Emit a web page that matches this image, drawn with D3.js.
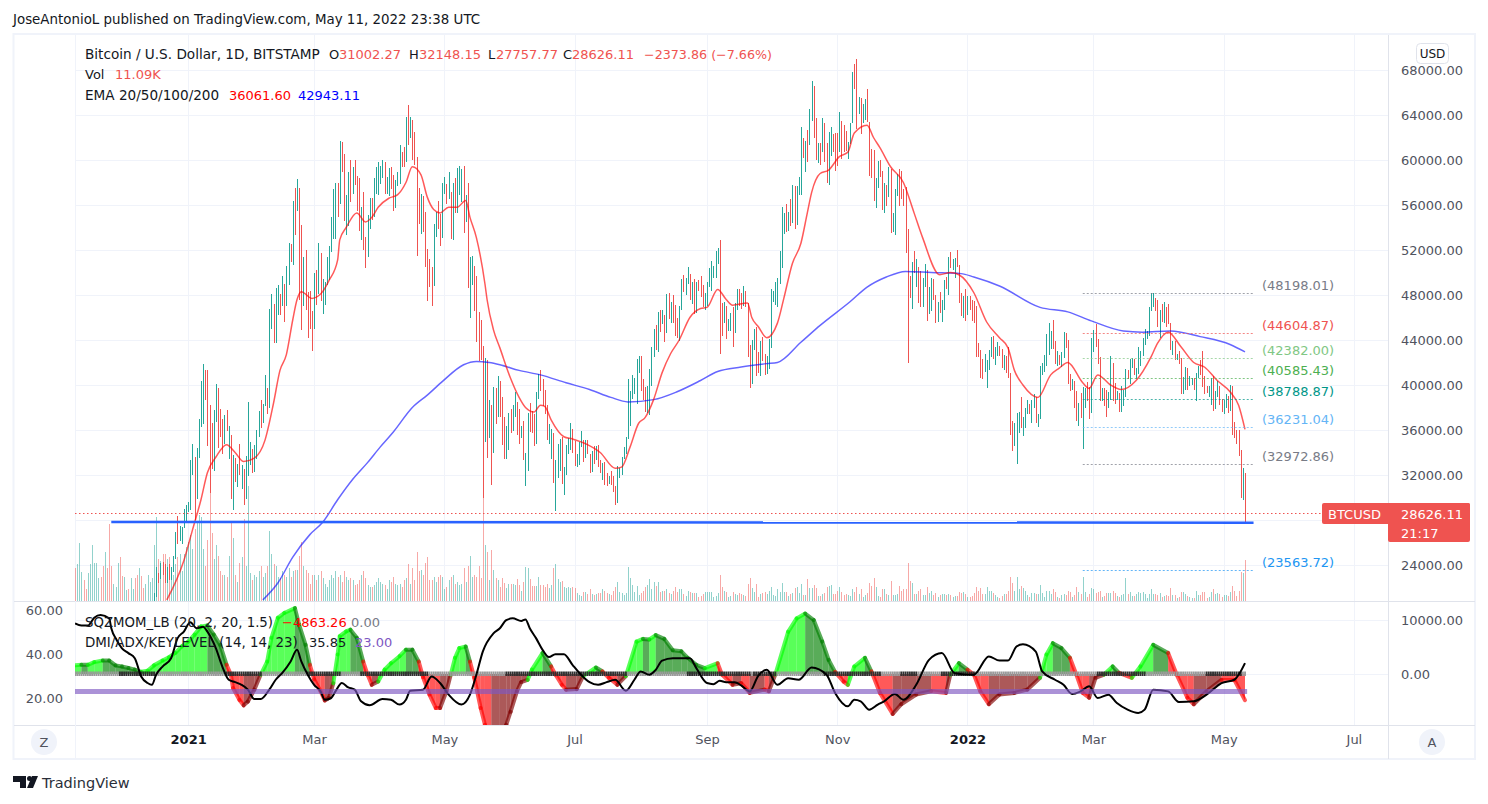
<!DOCTYPE html>
<html lang="en">
<head>
<meta charset="utf-8">
<title>BTCUSD</title>
<script src="https://d3js.org/d3.v7.min.js"></script>
<style>
  html, body { margin: 0; padding: 0; background: #fff; }
  svg { display: block; }
  text { font-family: "DejaVu Sans", sans-serif; font-size: 13px; fill: #131722; }
  .domain { display: none; }
  rect.bar, rect.vol { shape-rendering: crispEdges; }
</style>
</head>
<body>
<svg id="chart" width="1488" height="804"></svg>
<script>
// daily bars in thousands of USD, from 16 Dec 2020 (lower ones are under the volume pane edge)
var highs = [
  21.5,23.8,23.3,24.2,24.3,24.1,23.8,24.1,23.8,24.8,26.9,28.4,27.5,27.4,29.0,29.3,
  29.6,33.3,34.8,33.6,34.4,37.0,40.4,41.9,41.3,41.3,38.2,36.6,37.8,40.1,39.7,37.9,37.0,37.3,37.8,36.4,35.6,33.8,33.5,33.0,34.8,32.9,32.5,33.7,38.5,34.9,34.3,
  34.7,36.0,37.7,38.7,38.3,40.9,39.7,46.8,48.1,47.2,48.6,48.9,48.1,49.7,49.0,50.6,52.6,52.5,56.4,57.5,58.3,57.5,54.2,51.4,52.0,48.3,48.4,46.6,
  50.0,50.2,52.6,51.7,49.4,49.2,51.4,52.4,54.9,57.4,58.0,58.0,61.7,61.6,60.5,56.9,58.9,60.0,59.4,60.0,58.6,58.4,55.8,57.2,53.2,55.1,56.6,56.6,58.4,59.4,59.8,
  59.5,60.0,59.8,58.5,59.3,59.4,58.7,58.2,58.9,61.3,60.7,61.2,63.8,64.9,63.8,63.6,62.5,60.3,57.5,57.0,56.8,55.4,52.1,51.2,50.5,54.3,55.4,56.4,55.2,58.0,
  58.5,57.9,58.9,57.2,58.0,58.4,59.3,59.5,59.2,59.5,56.9,58.0,51.4,51.5,50.6,49.7,46.5,45.8,43.5,42.4,42.2,38.7,38.2,39.8,39.7,40.8,40.4,38.9,37.2,36.4,37.5,
  37.9,38.2,39.4,38.5,37.9,36.4,36.8,34.0,37.5,38.4,37.7,37.4,39.4,41.0,41.3,40.5,39.6,38.2,36.5,36.1,35.7,33.3,34.8,35.2,35.4,32.7,34.7,35.3,36.6,36.1,
  35.0,33.9,34.9,35.9,35.1,35.1,35.1,33.9,34.1,34.6,34.6,34.7,33.3,33.1,33.2,32.2,31.9,32.4,31.9,31.0,32.8,32.6,33.6,34.5,35.4,40.5,39.5,40.9,40.6,42.3,42.6,
  42.6,40.5,39.8,39.9,41.4,43.4,45.0,45.3,46.5,46.7,46.7,46.2,48.1,48.2,47.4,48.0,47.1,46.0,47.0,49.4,49.8,49.5,50.5,49.9,49.2,49.4,49.2,49.3,49.7,48.9,48.2,
  49.2,50.4,51.0,50.6,51.9,52.2,52.9,47.3,47.4,47.0,45.9,46.4,46.9,47.3,48.5,48.5,48.2,48.8,48.4,47.3,43.6,44.0,45.0,45.2,42.9,43.9,44.3,42.8,42.6,44.1,
  48.5,48.4,49.2,49.5,51.9,55.8,55.3,56.1,55.4,56.5,57.8,57.7,57.7,58.5,62.9,62.0,61.7,62.7,64.5,67.0,66.6,63.7,61.5,61.5,63.7,63.3,61.5,62.5,62.9,62.3,62.4,
  62.4,64.3,63.5,63.1,62.6,61.6,63.3,67.8,68.5,69.0,65.6,65.5,65.0,65.4,66.3,63.4,61.0,60.9,58.4,59.9,60.0,59.0,58.0,57.8,59.4,59.2,55.3,57.4,58.8,59.2,
  59.0,57.4,57.6,53.9,49.7,50.9,51.9,51.2,50.5,50.1,49.5,50.8,50.2,48.7,49.5,49.4,48.0,47.4,48.3,47.6,49.3,49.6,51.4,51.8,51.2,51.3,52.0,50.7,48.2,47.9,48.5,
  47.9,47.9,47.6,47.5,47.0,43.7,43.1,42.3,42.8,42.2,43.1,44.3,44.4,43.4,43.8,43.5,43.2,42.7,42.6,43.4,41.1,36.8,36.6,37.5,37.6,38.9,37.2,38.0,38.7,38.3,38.7,
  39.2,38.9,37.4,41.7,42.0,42.7,44.5,45.5,44.8,45.8,43.9,43.0,42.7,42.9,44.7,44.6,44.0,41.0,40.5,40.4,39.5,38.4,39.3,39.8,39.7,40.3,39.8,44.2,
  44.9,45.4,44.1,42.5,39.7,39.7,39.6,39.4,42.6,42.0,40.2,39.5,39.3,39.9,39.6,41.4,41.3,42.3,42.4,42.3,41.5,43.4,43.0,44.2,45.0,44.8,46.9,48.2,48.2,47.7,47.6,
  46.7,47.2,47.4,46.9,47.2,45.5,43.9,43.9,42.8,43.0,42.4,40.7,41.6,41.5,40.8,40.6,40.6,41.1,41.7,42.2,43.0,40.8,39.9,39.9,40.6,40.8,39.5,40.4,39.9,38.8,
  38.7,39.2,39.0,40.0,39.9,36.7,36.0,36.0,34.2,32.6,32.15
];
var lows = [
  19.3,21.2,22.4,22.8,23.1,22.4,22.4,22.7,22.7,23.4,24.5,25.9,26.1,25.9,27.3,27.9,
  28.7,28.9,32.0,28.0,29.9,33.5,36.3,36.5,38.7,34.6,30.4,32.5,32.4,36.7,34.4,35.4,33.9,34.8,35.9,33.4,29.9,28.9,31.4,30.9,32.0,30.8,29.3,29.9,31.9,32.9,32.2,
  32.3,33.4,35.4,36.2,36.6,38.1,37.4,38.0,45.0,43.7,43.7,46.2,46.2,47.0,45.6,47.0,48.9,50.9,50.7,53.3,55.5,47.6,44.9,47.0,46.7,44.2,45.0,43.0,
  45.0,47.1,48.1,47.5,46.3,47.1,48.9,49.3,51.8,53.0,53.0,54.9,56.1,58.9,54.6,53.3,54.1,56.3,57.0,57.8,55.5,53.7,52.9,52.0,50.4,51.4,53.9,54.7,54.9,57.0,56.9,
  57.9,58.4,57.0,57.0,56.8,57.4,55.5,55.7,57.7,57.9,59.4,59.4,59.8,61.3,62.0,60.0,59.6,51.5,54.3,53.4,53.6,50.5,47.5,48.7,47.0,48.8,53.2,53.9,52.4,53.1,
  57.0,56.1,56.5,53.0,52.9,55.3,55.3,56.9,56.3,53.5,54.5,48.6,46.0,48.9,46.6,43.8,42.1,42.2,30.0,34.9,33.5,35.3,31.1,34.0,36.5,37.2,37.2,34.7,33.4,33.4,34.2,
  35.7,35.9,37.2,35.6,34.8,35.3,33.3,31.0,32.4,35.8,35.7,34.6,34.8,38.8,39.5,38.1,37.4,35.1,34.8,33.4,31.3,28.8,31.7,32.4,31.2,30.2,32.0,33.9,34.2,34.0,
  32.8,32.7,32.9,34.5,33.2,33.5,33.9,32.2,32.3,33.0,33.3,32.7,32.2,31.6,31.1,31.0,31.2,31.1,30.5,29.3,29.5,31.7,32.0,33.4,33.9,35.2,36.4,38.8,39.2,38.3,41.1,
  39.5,38.7,37.6,37.5,37.3,39.9,42.5,43.1,42.9,44.7,45.4,43.8,44.6,45.9,45.5,45.5,44.4,44.2,43.9,46.7,48.3,48.0,49.0,47.6,47.2,46.3,46.4,48.4,47.8,46.9,46.7,
  47.0,48.7,48.4,49.5,49.5,50.8,42.8,44.4,45.5,44.1,44.8,44.8,43.4,44.6,46.7,47.0,46.8,47.0,46.9,42.5,39.7,40.1,43.1,40.8,41.1,40.8,42.1,40.9,41.0,41.4,
  43.3,47.4,47.1,46.9,49.0,50.4,53.4,53.6,53.7,54.1,54.4,53.9,54.2,56.9,56.9,60.2,58.9,59.8,61.3,63.5,62.0,60.0,59.7,59.6,60.7,59.8,58.0,57.8,60.4,60.7,59.0,
  59.5,60.7,60.1,60.7,60.8,60.1,61.4,63.3,66.3,62.8,64.1,62.3,63.3,63.6,63.4,58.6,58.4,56.4,55.7,57.5,58.5,55.6,55.3,55.9,56.7,53.5,53.6,53.3,56.8,55.9,
  56.5,55.9,51.7,42.0,47.7,46.8,50.0,48.7,47.3,46.9,46.9,48.7,45.7,46.3,46.6,47.6,45.5,45.6,46.4,45.6,46.7,48.5,48.0,50.4,50.2,49.5,50.5,47.3,46.1,46.0,45.7,
  46.2,46.7,45.7,45.5,42.5,42.5,40.6,40.5,41.2,39.7,41.3,42.5,42.3,41.8,42.6,42.6,41.5,41.3,41.1,40.6,35.6,34.1,34.6,33.0,35.7,36.2,35.5,36.2,37.4,37.4,36.6,
  38.0,36.6,36.3,37.0,40.9,41.2,41.7,42.7,43.2,43.2,41.9,41.7,41.8,41.6,42.4,43.3,40.1,39.5,39.6,38.0,36.8,36.4,37.1,34.3,38.0,38.6,37.0,37.5,
  42.9,43.4,41.9,38.6,38.6,38.1,37.2,38.0,38.7,38.6,38.3,38.7,37.6,37.6,38.1,38.9,40.5,40.1,41.5,40.9,40.5,41.0,41.7,42.6,43.6,44.1,44.4,46.6,46.9,46.6,45.2,
  44.2,45.6,45.5,45.2,45.4,43.1,42.7,42.2,42.2,41.9,39.2,39.2,39.6,39.6,39.9,40.0,39.6,38.6,40.6,40.9,39.8,39.2,39.3,38.9,38.2,37.7,37.9,38.9,38.2,37.6,
  37.4,38.0,37.5,37.7,35.6,35.3,34.8,33.7,30.0,29.8,27.76
];
// up or down per day from 9 Nov 2020, month by month
var moves = [
  "duuud duuuu uuddu dddu uud",
  "duudu uddud duuuu uudud duduu uduuu u",
  "uuudu uuudd dduud ddudu dudud uduuu d",
  "uuudu uduud uudud uudud uddud ddd",
  "ududu uuuuu ududd uudud ddudd uuduu u",
  "uuduu dduuu ddudu ddddu ddddd uuddu",
  "ududu duuud uduud ddddu dudud udddu u",
  "duudd uduud dduud ddduu duuud uuuud",
  "duuud uddud uddud duddd uuuuu uuuuu u",
  "ddduu uudud ududu ddduu duudu duddd u",
  "uuuuu uddud uuduu ddudd duudd udduu",
  "uuuuu uudud uduuu duduu ddudu dduud d",
  "duddd uuudd uduud ddduu ddudu duuud",
  "ddddd ududd uuduu ddudu ududu udddu d",
  "udddd ddduu uuduu ddudd dduuu duuud u",
  "uduuu uuuud duduu dddud duduu ddu",
  "udddu dduud duduu uduud uuuuu uuuud d",
  "ududd dudud duudu uduud ddduu duudd",
  "uudud ddddu d"
];
// volume per day, hundreds of BTC, from 9 Nov 2020
var volumes = [
  95,105,165,82,60,35,80,105,160,110,108,65,70,100,140,95,220,100,50,40,110,125,
  72,70,32,33,65,35,65,75,95,72,38,50,75,55,65,160,240,120,115,135,135,120,125,90,75,105,125,135,85,135,155,
  170,190,150,205,225,245,240,150,100,175,320,195,120,160,130,85,75,75,70,130,225,180,75,55,110,125,235,100,330,80,60,
  75,70,85,100,70,80,100,200,135,105,100,70,65,85,75,70,95,70,85,90,90,130,170,100,90,80,50,75,
  75,60,75,85,65,50,40,60,75,65,85,70,75,55,85,70,60,65,60,45,50,60,75,85,65,45,40,40,45,55,65,
  55,50,45,35,60,55,70,50,45,50,40,60,65,105,50,95,60,140,85,90,75,110,125,60,60,70,55,70,75,70,
  35,40,60,70,75,50,55,45,50,95,55,100,130,70,75,70,100,65,300,160,140,60,145,90,65,60,40,
  66,51,36,48,48,48,45,63,45,30,54,96,93,63,42,42,42,69,45,45,
  41,48,36,45,93,105,63,54,57,39,36,39,36,39,36,24,18,15,27,27,
  21,33,21,18,21,24,24,33,30,24,21,18,30,39,54,27,24,18,24,96,
  66,45,27,42,18,24,30,39,45,63,33,54,42,54,27,30,30,33,24,21,
  30,39,27,33,33,21,15,30,27,24,24,24,12,15,21,27,27,27,27,12,
  15,24,75,39,30,27,12,15,27,21,18,24,21,18,15,48,66,36,27,48,
  12,21,24,27,21,30,39,18,15,33,27,51,27,27,15,21,24,36,39,24,
  48,18,18,63,36,36,45,36,15,15,21,24,39,42,45,21,21,30,39,27,
  18,21,18,15,33,27,39,21,33,12,18,24,51,42,66,39,15,12,33,33,
  21,18,57,18,18,21,42,
  30,33,33,108,57,51,21,21,30,33,18,18,39,24,30,18,24,12,18,21,
  21,18,21,18,12,15,15,27,24,27,21,12,12,15,24,39,30,36,21,21,
  39,30,30,24,18,12,9,15,21,21,30,69,51,30,69,33,42,36,30,18,
  12,24,24,21,21,45,24,12,30,30,21,33,27,12,9,18,21,18,30,27,
  12,18,39,27,21,69,27,12,21,36,33,24,27,30,12,15,24,24,24,30,
  24,15,12,18,21,66,21,27,15,15,21,27,24,27,21,9,21,33,21,21,
  18,24,12,15,18,15,36,18,18,9,12,27,27,21,15,12,9,9,30,18,
  18,27,27,9,12,27,33,21,24,21,12,18,18,15,27,42,30,15,30,84,
  81,117
];

// EMA 20 and EMA 200 read at these days after 9 Nov 2020
var ema20Days = [43,51,55,59,62,66,71,75,79,84,89,93,96,99,102,104,106,111,116,119,123,124,127,132,136,139,142,147,151,155,158,162,165,168,171,175,179,183,185,188,192,193,196,199,204,208,211,215,218,220,223,229,233,240,246,253,256,260,264,267,271,275,279,283,288,293,296,301,305,308,315,317,320,324,329,332,336,340,343,345,349,353,358,362,365,371,374,377,382,388,393,397,405,410,414,421,427,433,437,440,444,451,457,461,465,472,475,479,485,490,497,504,507,512,518,524,529,535,541,545,548];
var ema20 = [20.9,24.4,27.1,29.8,32.2,33.6,34.7,34.0,33.2,33.5,35.1,38.4,41.3,42.7,45.8,47.6,48.3,47.7,48.3,49.3,51.1,52.9,54.0,55.3,54.5,54.9,55.8,56.6,56.9,58.0,59.4,58.7,56.7,55.6,55.3,55.8,55.8,56.4,54.9,53.1,49.0,47.6,44.9,43.3,40.6,38.9,38.0,37.6,38.2,38.1,36.9,35.4,35.2,34.7,34.0,32.6,32.7,34.5,36.6,37.1,38.7,41.1,42.8,44.0,46.0,46.8,46.9,48.5,47.6,47.1,47.3,46.0,45.2,44.2,45.5,47.7,50.8,52.6,55.3,57.1,58.8,59.1,60.3,60.7,62.4,63.1,62.0,61.1,59.4,58.0,55.3,53.1,49.8,50.0,49.8,48.2,45.6,44.2,43.3,41.3,40.0,38.9,40.9,41.5,42.0,40.2,39.7,40.9,40.0,39.6,40.4,42.5,43.7,44.7,43.4,42.0,41.6,40.4,39.4,38.2,36.06];
var ema200Days = [88,95,102,110,116,123,130,137,143,149,158,165,172,182,188,194,199,208,218,230,241,251,259,271,282,293,301,312,324,329,340,349,363,371,380,389,401,415,421,433,452,465,476,491,500,513,527,541,548];
var ema200 = [20.9,22.4,24.7,26.7,27.8,29.8,31.6,33.1,34.5,35.8,38.0,39.1,40.3,41.8,42.1,42.0,41.8,41.3,40.9,40.2,39.6,38.9,38.5,38.7,39.4,40.4,41.2,41.6,41.9,42.0,43.8,45.3,47.4,48.7,49.6,50.1,50.0,49.9,49.6,48.8,46.9,46.5,45.7,44.8,44.7,44.8,44.3,43.6,42.94];

// squeeze momentum (thousands), read at these days
var momDays = [0,3,6,9,13,16,19,22,25,28,31,34,37,41,44,47,50,53,56,59,62,65,68,71,73,74,77,79,81,84,87,90,92,95,98,103,105,108,110,112,115,117,119,121,123,124,127,129,132,135,137,139,142,145,148,152,155,158,161,163,166,169,171,174,176,178,180,183,185,187,190,192,195,199,202,204,207,209,212,214,219,223,225,228,230,235,238,244,247,250,254,258,263,266,269,272,276,280,284,287,291,295,301,303,308,312,316,323,325,328,334,338,342,346,350,353,356,360,362,365,370,373,377,383,387,394,401,408,410,414,418,421,424,428,433,440,446,452,455,458,462,466,469,472,475,478,482,486,489,495,499,505,512,516,521,524,530,537,543,548];
var momentum = [1.6,1.7,1.7,2.2,2.5,2.5,1.6,1.4,1.1,0.8,0.4,0.6,1.6,2.5,3.1,3.9,5.1,6.0,7.3,8.8,9.0,7.3,5.4,1.7,-0.1,-2.6,-4.8,-5.8,-5.1,-2.9,-0.1,2.3,6.7,10.4,11.3,12.2,9.1,5.4,1.7,-1.0,-3.2,-4.9,-4.4,-1.7,3.6,7.0,7.9,8.2,6.7,2.3,-0.1,-2.0,-1.4,0.8,2.0,3.3,4.5,4.5,2.3,-0.6,-3.8,-6.3,-6.3,-3.2,-0.1,3.0,4.8,5.1,2.3,-0.7,-6.3,-9.4,-13.0,-12.0,-9.4,-7.0,-3.2,-1.5,-1.1,0.8,3.9,1.4,-0.1,-2.0,-2.9,-2.8,-0.4,1.2,0.5,-0.7,-2.0,-0.4,6.0,6.5,6.4,7.2,6.5,4.4,4.2,3.0,1.7,1.1,2.0,-0.1,-2.0,-1.7,-3.5,-2.9,-3.2,-0.1,7.8,10.3,11.2,10.0,6.0,2.6,0.4,-1.4,-2.0,1.4,3.0,0.5,-3.5,-7.4,-5.6,-3.8,-3.2,-3.5,-0.1,2.0,0.8,-0.1,-3.2,-5.6,-3.8,-3.5,-2.9,-0.7,3.6,5.7,4.8,3.0,-0.1,-3.5,-4.4,-0.7,-0.1,1.4,0.2,-0.7,1.4,5.4,3.9,-0.1,-4.4,-5.6,-3.2,-1.1,-1.1,-4.86];
// squeeze-on stretches of the zero line, days
var squeezeFrom = [21,71,109,134,202,287,318,351,387,406,479,530];
var squeezeTo = [37,87,124,165,258,316,328,377,394,421,501,546];

// ADX, read at these days
var adxDays = [0,3,6,9,12,16,17,19.5,22,25,28,31,34,36,38,41,45,48,51,54,57,60,62,66,69,72,75,78,81,84,87,91,94,97,101,104,106,109,112,115,117,120,122,125,128,131,134,138,144,148,152,155,157,163,167,171,175,181,185,188,191,196,199,202,205,209,211,213,216,219,222,225,229,233,237,241,245,249,253,258,262,265,269,272,275,280,288,291,296,299,302,305,309,312,316,320,324,329,334,339,345,352,356,362,365,368,372,376,379,384,388,394,400,406,412,421,428,433,437,441,444,450,453,459,463,467,471,475,479,484,488,493,498,501,505,512,517,524,530,537,543,548];
var adx = [53.9,52.9,52.9,56.5,57.7,56.2,51.7,46.4,42.6,40.4,38.1,29.8,26.8,26,30.6,34.3,38.1,47.1,50.2,54.4,51.7,52.4,50.2,42.6,34.3,28.3,27.2,26,23.8,19.5,19.5,23.8,28.3,31.3,36.6,41.9,36.6,30.6,26,23,19.2,20,23,26.8,24.8,23.8,18.5,16.7,19.5,19.2,17,19.2,23.3,23.8,29.8,26.8,21.5,17,21.5,30.6,41.1,49.4,51.7,55.4,56.2,55,55.7,51.7,47.1,41.9,38.6,39.9,39.9,35.1,30.6,27.2,26,27.2,28.3,23.3,28.3,32.1,30.6,32.8,37,38.1,38.1,33.6,26.8,26.3,27.8,27.2,27.2,25.7,23,30.1,32.8,26,29,28.3,33.9,30.6,22.3,16.2,19.2,18.5,14.7,17,18.5,21.8,19.2,26,37.3,40.4,31.3,30.6,38.9,37,37,43.4,44.4,41.1,32.1,28.3,26,21.8,23,25.3,20,21.5,17.7,14.7,13.2,14.7,23.8,23,18.2,18.5,21.5,26.8,28.3,35.85];

var priceTicks = [24000,28000,32000,36000,40000,44000,48000,52000,56000,60000,64000,68000];
var adxTicks = [20,40,60];
var momTicks = [0,10000];
var monthDates = [[2021,0],[2021,2],[2021,4],[2021,6],[2021,8],[2021,10],[2022,0],[2022,2],[2022,4],[2022,6]];
var monthLabels = ["2021","Mar","May","Jul","Sep","Nov","2022","Mar","May","Jul"];

// measured levels drawn on the last stretch
var fibValues = [48198.01,44604.87,42382.00,40585.43,38788.87,36231.04,32972.86,23563.72];
var fibColors = ["#787b86","#ef5350","#81c784","#4caf50","#009688","#64b5f6","#787b86","#2196f3"];
var lastClose = 28626.11;
var supportFrom = 27830, supportTo = 27757;
var keyLevel = 23;

var svg = d3.select("#chart");

var x = d3.scaleUtc()
  .domain([new Date(Date.UTC(2020,10,9)), new Date(Date.UTC(2022,4,11))])
  .range([75,1245]);
var dayX = function(d) { return x(new Date(Date.UTC(2020,10,9) + d*86400000)); };

var y = d3.scaleLinear().domain([24000,68000]).range([565,70]);
var volY = d3.scaleLinear().domain([0,300]).range([601,496]);
var adxY = d3.scaleLinear().domain([20,60]).range([698,610]);
var momY = d3.scaleLinear().domain([0,10000]).range([674,620]);

var moveList = moves.join("").replace(/\s/g,"").split("");
var firstBar = moveList.length - highs.length;
var bars = highs.map(function(h,i) {
  return {day: firstBar + i, high: h*1000, low: lows[i]*1000, move: moveList[firstBar + i]};
});

var defs = svg.append("defs");
defs.append("clipPath").attr("id","pricePane").append("rect").attr("x",75).attr("y",35).attr("width",1313).attr("height",566);
defs.append("clipPath").attr("id","lowerPane").append("rect").attr("x",75).attr("y",602).attr("width",1313).attr("height",123);

// frame
svg.append("rect").attr("x",13.5).attr("y",34).attr("width",1461.5).attr("height",725)
  .attr("fill","none").attr("stroke","#f0f3fa").attr("stroke-width",2);

// grid
var grid = svg.append("g").attr("stroke","#f0f3fa").attr("stroke-width",1);
grid.selectAll("line.h").data(priceTicks).enter().append("line").attr("class","h")
  .attr("x1",75).attr("x2",1388)
  .attr("y1",function(d){return Math.round(y(d))+0.5;}).attr("y2",function(d){return Math.round(y(d))+0.5;});
grid.selectAll("line.m").data(momTicks).enter().append("line").attr("class","m")
  .attr("x1",75).attr("x2",1388)
  .attr("y1",function(d){return Math.round(momY(d))+0.5;}).attr("y2",function(d){return Math.round(momY(d))+0.5;});
var monthX = monthDates.map(function(m){ return x(new Date(Date.UTC(m[0],m[1],1))); });
grid.selectAll("line.v").data(monthX).enter().append("line").attr("class","v")
  .attr("y1",35).attr("y2",725)
  .attr("x1",function(d){return Math.round(d)+0.5;}).attr("x2",function(d){return Math.round(d)+0.5;});

// pane separators
var sep = svg.append("g").attr("stroke","#e0e3eb").attr("stroke-width",1);
sep.append("line").attr("x1",14).attr("x2",1475).attr("y1",601.5).attr("y2",601.5);
sep.append("line").attr("x1",14).attr("x2",1475).attr("y1",725.5).attr("y2",725.5);
sep.append("line").attr("x1",1388.5).attr("x2",1388.5).attr("y1",35).attr("y2",759);
svg.append("line").attr("x1",75.5).attr("x2",75.5).attr("y1",35).attr("y2",759).attr("stroke","#f0f3fa");

var priceLayer = svg.append("g").attr("clip-path","url(#pricePane)");

// volume
priceLayer.selectAll("rect.vol").data(volumes).enter().append("rect").attr("class","vol")
  .attr("x",function(d,i){return Math.round(dayX(i));})
  .attr("width",1)
  .attr("y",function(d){return volY(d);})
  .attr("height",function(d){return 601 - volY(d);})
  .attr("fill",function(d,i){return moveList[i]=="u" ? "#26a69a" : "#ef5350";})
  .attr("opacity",0.5);

// bars are thin at this zoom, only the high-low stroke shows
priceLayer.selectAll("rect.bar").data(bars).enter().append("rect").attr("class","bar")
  .attr("x",function(d){return Math.round(dayX(d.day));})
  .attr("width",1)
  .attr("y",function(d){return y(d.high);})
  .attr("height",function(d){return y(d.low) - y(d.high);})
  .attr("fill",function(d){return d.move=="u" ? "#26a69a" : "#ef5350";});

// emas
var emaLine = d3.line().x(function(d){return dayX(d[0]);}).y(function(d){return y(d[1]*1000);}).curve(d3.curveMonotoneX);
priceLayer.append("path").datum(d3.zip(ema200Days,ema200)).attr("d",emaLine)
  .attr("fill","none").attr("stroke","#0000ff").attr("stroke-opacity",0.6).attr("stroke-width",1.5);
priceLayer.append("path").datum(d3.zip(ema20Days,ema20)).attr("d",emaLine)
  .attr("fill","none").attr("stroke","#ff0000").attr("stroke-opacity",0.65).attr("stroke-width",1.5);

// last close
svg.append("line").attr("x1",75).attr("x2",1322)
  .attr("y1",Math.round(y(lastClose))+0.5).attr("y2",Math.round(y(lastClose))+0.5)
  .attr("stroke","#ef5350").attr("stroke-dasharray","1.5 2.5");

// support line
svg.append("line")
  .attr("x1",dayX(17)).attr("x2",dayX(552))
  .attr("y1",y(supportFrom)).attr("y2",y(supportTo))
  .attr("stroke","#2962ff").attr("stroke-width",2.5);

// fib levels
var fibX1 = dayX(472), fibX2 = dayX(552);
svg.selectAll("line.fib").data(fibValues).enter().append("line").attr("class","fib")
  .attr("x1",fibX1).attr("x2",fibX2)
  .attr("y1",function(d){return Math.round(y(d))+0.5;}).attr("y2",function(d){return Math.round(y(d))+0.5;})
  .attr("stroke",function(d,i){return fibColors[i];})
  .attr("stroke-opacity",0.7).attr("stroke-dasharray","2 2");
svg.selectAll("text.fib").data(fibValues).enter().append("text").attr("class","fib")
  .attr("x",1262).attr("y",function(d){return y(d)-3;})
  .style("fill",function(d,i){return fibColors[i];})
  .style("font-size","13px")
  .text(function(d){return "(" + d.toFixed(2) + ")";});

// squeeze momentum, one piece between each pair of reads
var lowerLayer = svg.append("g").attr("clip-path","url(#lowerPane)");
var momPoints = d3.zip(momDays,momentum);
var momPieces = d3.pairs(momPoints);
var momColor = function(p) {
  var up = p[1][1] > p[0][1];
  if (p[1][1] >= 0) return up ? "#00ff00" : "#008000";
  return up ? "#800000" : "#ff0000";
};
var momArea = d3.area().x(function(d){return dayX(d[0]);}).y0(momY(0)).y1(function(d){return momY(d[1]*1000);});
var momLine = d3.line().x(function(d){return dayX(d[0]);}).y(function(d){return momY(d[1]*1000);});
lowerLayer.selectAll("path.momfill").data(momPieces).enter().append("path").attr("class","momfill")
  .attr("d",momArea).attr("fill",momColor).attr("fill-opacity",0.65);
lowerLayer.selectAll("path.momtop").data(momPieces).enter().append("path").attr("class","momtop")
  .attr("d",momLine).attr("fill","none").attr("stroke",momColor).attr("stroke-opacity",0.65)
  .attr("stroke-width",4).attr("stroke-linecap","round");

// squeeze dots on the zero line
var isSqueeze = function(d) {
  return squeezeFrom.some(function(f,i){ return d >= f && d <= squeezeTo[i]; });
};
lowerLayer.selectAll("rect.dot").data(volumes).enter().append("rect").attr("class","dot")
  .attr("x",function(d,i){return dayX(i) - 0.9;})
  .attr("width",1.9)
  .attr("y",momY(0) - 2.5).attr("height",4.5)
  .attr("fill",function(d,i){return isSqueeze(i) ? "#303030" : "#9a9a9a";});

// adx and key level
var adxLine = d3.line().x(function(d){return dayX(d[0]);}).y(function(d){return adxY(d[1]);}).curve(d3.curveMonotoneX);
lowerLayer.append("path").datum(d3.zip(adxDays,adx)).attr("d",adxLine)
  .attr("fill","none").attr("stroke","#000").attr("stroke-width",2);
lowerLayer.append("line").attr("x1",75).attr("x2",dayX(549))
  .attr("y1",adxY(keyLevel)).attr("y2",adxY(keyLevel))
  .attr("stroke","#7e57c2").attr("stroke-opacity",0.65).attr("stroke-width",5);

// axes, the 28000 label sits under the price tag so it is left out
var axisColor = "#50535e";
var styleAxis = function(g) { g.selectAll("text").style("fill",axisColor).style("font-size","13px"); };
svg.append("g").attr("transform","translate(1388,0)")
  .call(d3.axisRight(y).tickValues(priceTicks.filter(function(d){return d != 28000;})).tickSize(0).tickPadding(13).tickFormat(d3.format(".2f")))
  .call(styleAxis);
svg.append("g").attr("transform","translate(1388,0)")
  .call(d3.axisRight(momY).tickValues(momTicks).tickSize(0).tickPadding(13).tickFormat(d3.format(".2f")))
  .call(styleAxis);
svg.append("g").attr("transform","translate(63,0)")
  .call(d3.axisLeft(adxY).tickValues(adxTicks).tickSize(0).tickPadding(0).tickFormat(d3.format(".2f")))
  .call(styleAxis);
var timeAxis = svg.append("g").attr("transform","translate(0,725)")
  .call(d3.axisBottom(x)
    .tickValues(monthDates.map(function(m){return new Date(Date.UTC(m[0],m[1],1));}))
    .tickSize(0).tickPadding(10)
    .tickFormat(function(d,i){return monthLabels[i];}))
  .call(styleAxis);
timeAxis.selectAll("text").style("font-weight",function(d,i){return monthLabels[i].length==4 ? "bold" : "normal";})
  .style("fill",function(d,i){return monthLabels[i].length==4 ? "#131722" : axisColor;});

// price tag
svg.append("rect").attr("x",1322).attr("y",503).attr("width",148).attr("height",21).attr("rx",2).attr("fill","#ef5350");
svg.append("rect").attr("x",1388).attr("y",503).attr("width",82).attr("height",39).attr("rx",2).attr("fill","#ef5350");
var tagText = [[1328,519,"BTCUSD"],[1401,519,"28626.11"],[1401,538,"21:17"]];
svg.selectAll("text.tag").data(tagText).enter().append("text").attr("class","tag")
  .attr("x",function(d){return d[0];}).attr("y",function(d){return d[1];})
  .style("fill","#fff").text(function(d){return d[2];});

// legends and labels
var dark = "#131722", red = "#ef5350", grey = "#787b86";
var labels = [
  [13,24,"JoseAntonioL published on TradingView.com, May 11, 2022 23:38 UTC",dark,13.4],
  [85,59,"Bitcoin / U.S. Dollar, 1D, BITSTAMP",dark,13.6],
  [329,59,"O",dark,13],[339,59,"31002.27",red,13],
  [409,59,"H",dark,13],[419,59,"32148.15",red,13],
  [488,59,"L",dark,13],[496,59,"27757.77",red,13],
  [563,59,"C",dark,13],[572,59,"28626.11",red,13],
  [644,59,"\u22122373.86 (\u22127.66%)",red,12.7],
  [85,79,"Vol",dark,13],[115,79,"11.09K",red,13],
  [85,100,"EMA 20/50/100/200",dark,13.6],[229,100,"36061.60","#ff0000",13],[298,100,"42943.11","#0000ff",13],
  [85,627,"SQZMOM_LB (20, 2, 20, 1.5)",dark,13.3],[282,627,"\u22124863.26","#ff0000",13],[351,627,"0.00",grey,13],
  [85,647,"DMI/ADX/KEYLEVEL (14, 14, 23)",dark,13.4],[309,647,"35.85",dark,13],[355,647,"23.00","#7e57c2",13]
];
svg.selectAll("text.lab").data(labels).enter().append("text").attr("class","lab")
  .attr("x",function(d){return d[0];}).attr("y",function(d){return d[1];})
  .style("fill",function(d){return d[3];}).style("font-size",function(d){return d[4]+"px";}).text(function(d){return d[2];});

// USD button, Z and A
svg.append("rect").attr("x",1416.5).attr("y",43.5).attr("width",32).attr("height",20).attr("rx",4)
  .attr("fill","#fff").attr("stroke","#e0e3eb");
svg.append("text").attr("x",1432.5).attr("y",58).attr("text-anchor","middle").style("font-size","12px").text("USD");
var circleBtn = [[44,742,"Z"],[1432,742,"A"]];
svg.selectAll("circle.btn").data(circleBtn).enter().append("circle").attr("class","btn")
  .attr("cx",function(d){return d[0];}).attr("cy",function(d){return d[1];}).attr("r",13).attr("fill","#f0f3fa");
svg.selectAll("text.btn").data(circleBtn).enter().append("text").attr("class","btn")
  .attr("x",function(d){return d[0];}).attr("y",function(d){return d[1]+5;}).attr("text-anchor","middle")
  .style("fill",axisColor).text(function(d){return d[2];});

// logo
var logo = svg.append("g").attr("fill","#131722");
logo.append("path").attr("d","M13 776h13v12h-6v-6h-7z");
logo.append("circle").attr("cx",29.5).attr("cy",778.6).attr("r",2.5);
logo.append("path").attr("d","M38 776l-5 12h-6l5-12z");
svg.append("text").attr("x",42).attr("y",788).style("font-size","14.5px").style("fill","#2a2e39").text("TradingView");
</script>
</body>
</html>
